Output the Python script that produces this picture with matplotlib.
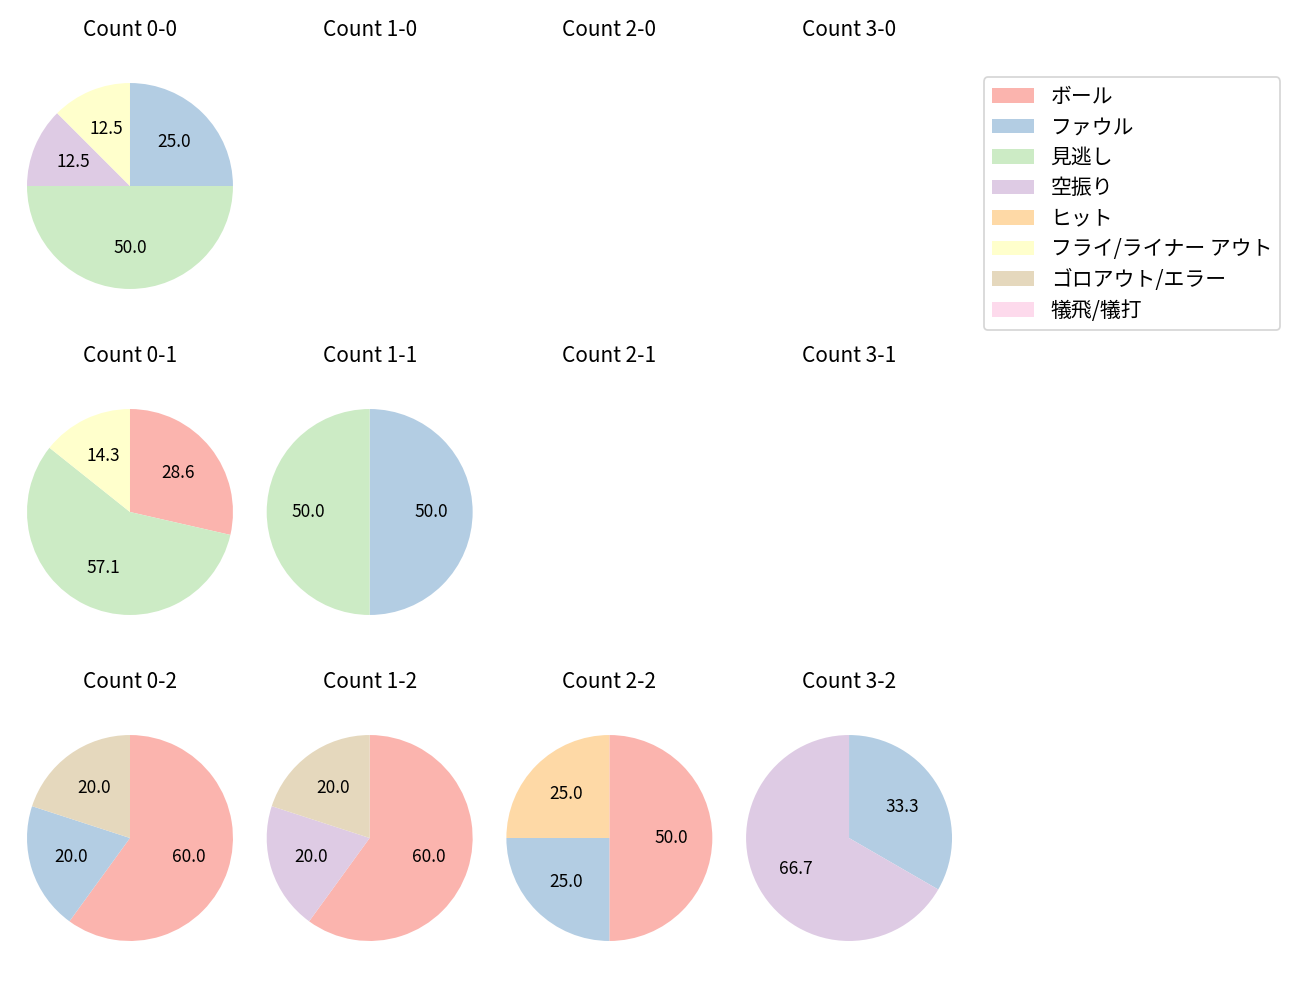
import matplotlib.pyplot as plt
from matplotlib.patches import Patch

plt.rcParams['font.family'] = ['Noto Sans CJK JP', 'DejaVu Sans']

# 球種の分類
labels = ['ボール', 'ファウル', '見逃し', '空振り', 'ヒット',
          'フライ/ライナー アウト', 'ゴロアウト/エラー', '犠飛/犠打']

# カウントごとの件数 (labels の順)
counts = ['0-0', '1-0', '2-0', '3-0',
          '0-1', '1-1', '2-1', '3-1',
          '0-2', '1-2', '2-2', '3-2']
c00 = [0, 2, 4, 1, 0, 1, 0, 0]
c10 = [0, 0, 0, 0, 0, 0, 0, 0]
c20 = [0, 0, 0, 0, 0, 0, 0, 0]
c30 = [0, 0, 0, 0, 0, 0, 0, 0]
c01 = [2, 0, 4, 0, 0, 1, 0, 0]
c11 = [0, 1, 1, 0, 0, 0, 0, 0]
c21 = [0, 0, 0, 0, 0, 0, 0, 0]
c31 = [0, 0, 0, 0, 0, 0, 0, 0]
c02 = [3, 1, 0, 0, 0, 0, 1, 0]
c12 = [3, 0, 0, 1, 0, 0, 1, 0]
c22 = [2, 1, 0, 0, 1, 0, 0, 0]
c32 = [0, 1, 0, 2, 0, 0, 0, 0]
data = [c00, c10, c20, c30, c01, c11, c21, c31, c02, c12, c22, c32]

colors = plt.cm.Pastel1.colors[:len(labels)]

fig, axes = plt.subplots(3, 4, figsize=(10.4, 8), dpi=125)
fig.subplots_adjust(left=0.0078, right=0.7453, top=0.9495, bottom=0.0265,
                    wspace=0.0, hspace=0.203)

for ax, name, vals in zip(axes.flat, counts, data):
    ax.set_title('Count ' + name, pad=8.3)
    ax.axis('off')
    if sum(vals) == 0:
        continue
    v = [x for x in vals if x > 0]
    c = [colors[i] for i, x in enumerate(vals) if x > 0]
    ax.pie(v, colors=c, autopct='%.1f', startangle=90, counterclock=False,
           radius=1.074)
    ax.set_aspect('equal', adjustable='datalim')

handles = [Patch(facecolor=col, label=lab) for col, lab in zip(colors, labels)]
fig.legend(handles=handles, loc='upper right', bbox_to_anchor=(0.993, 0.933),
           fontsize=12, labelspacing=0.41)

plt.savefig('out.png')
